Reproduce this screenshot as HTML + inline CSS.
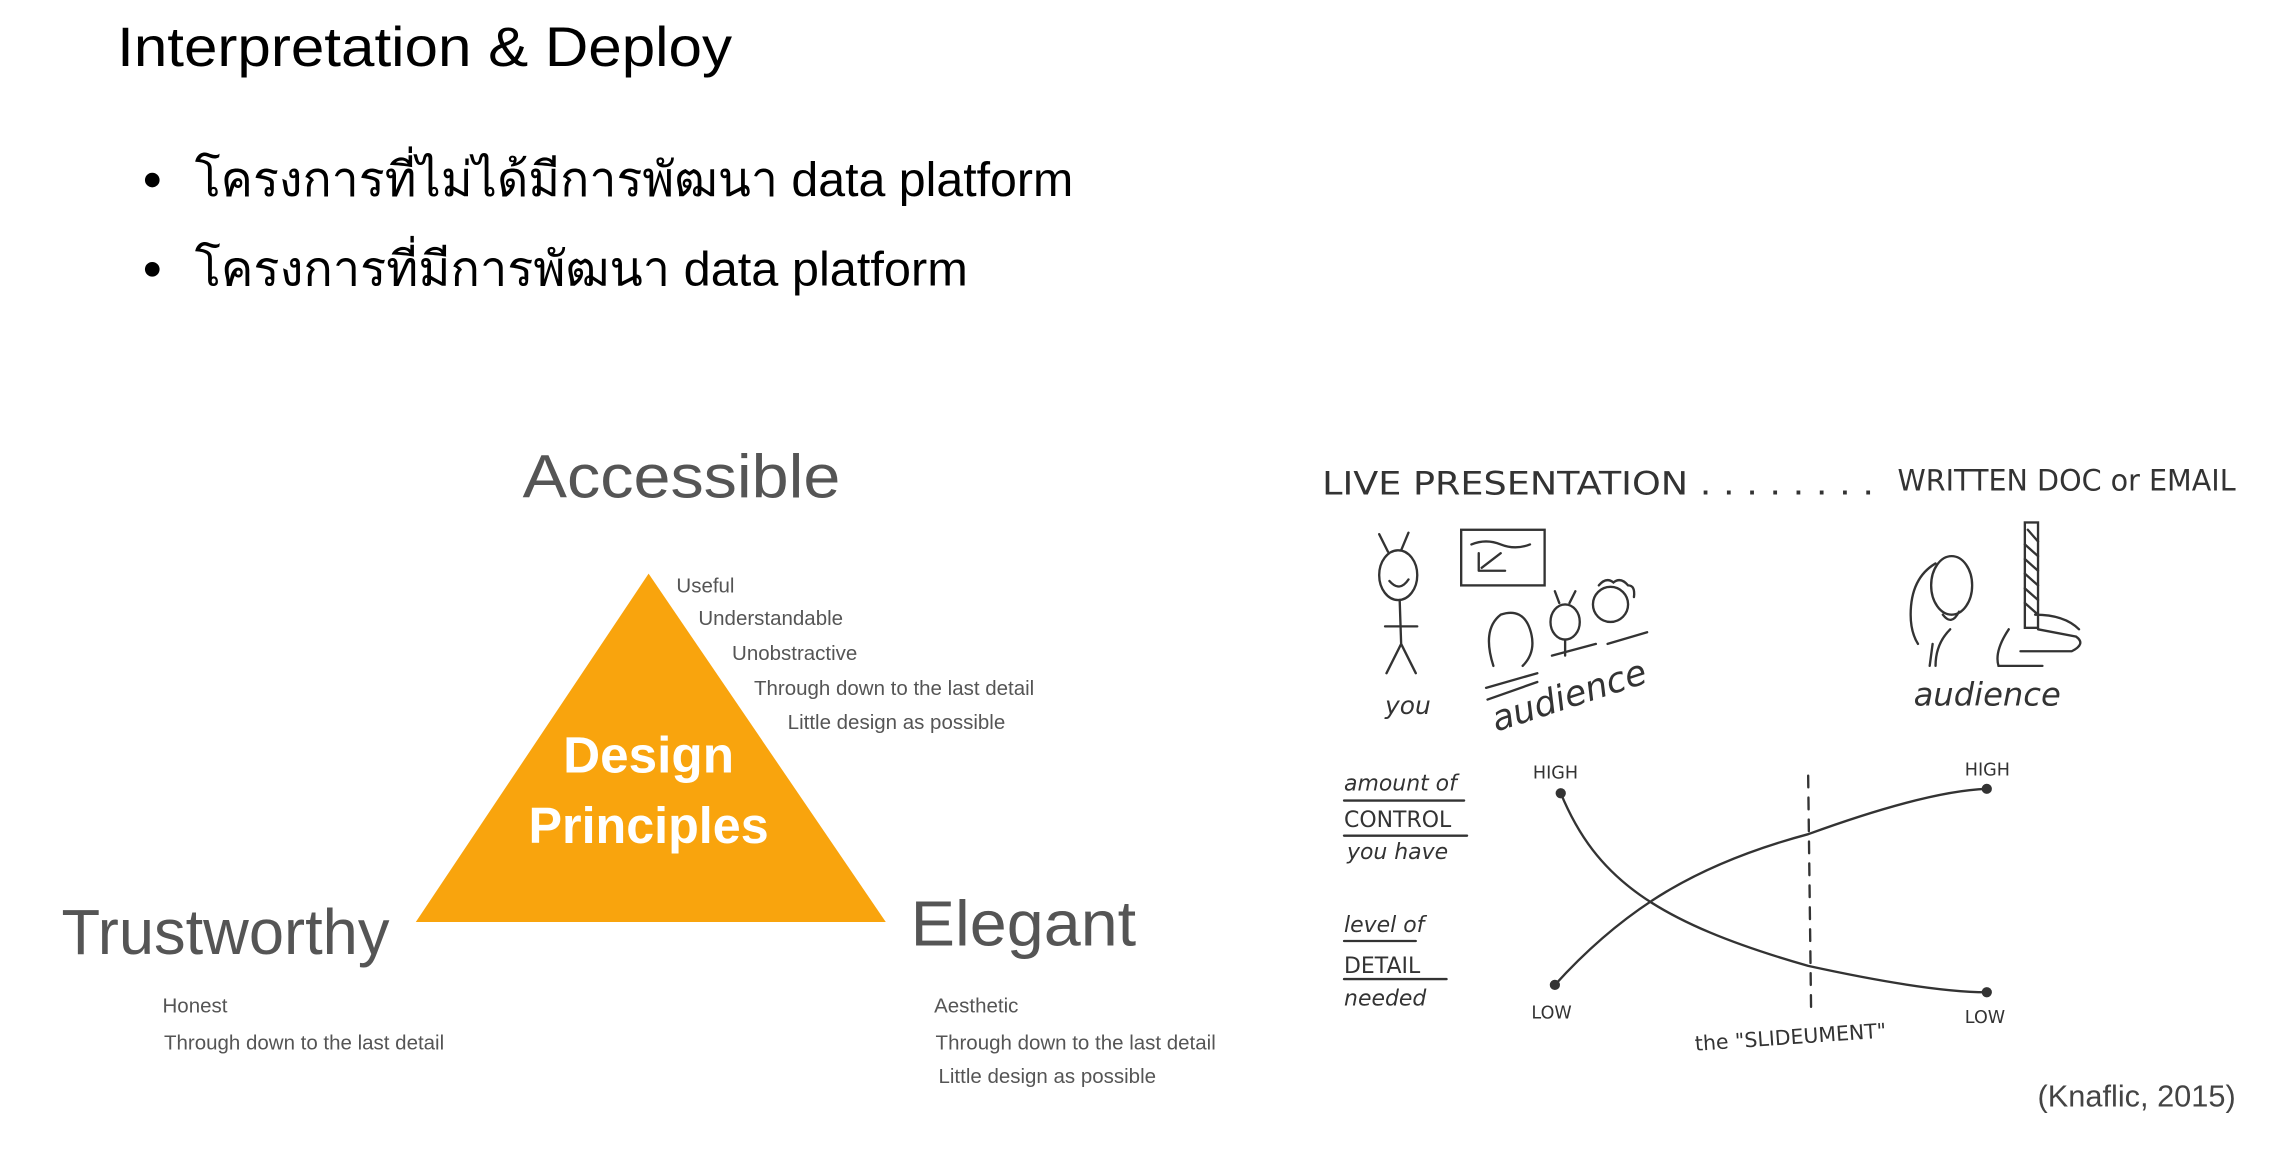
<!DOCTYPE html>
<html><head><meta charset="utf-8"><style>
html,body{margin:0;padding:0;background:#fff;}
svg{display:block;}
</style></head><body>
<svg width="2284" height="1162" viewBox="0 0 1560 794" preserveAspectRatio="none" xmlns="http://www.w3.org/2000/svg">
<rect width="1560" height="794" fill="#fff"/>
<g font-family="'Liberation Sans', 'DejaVu Sans', sans-serif">
<text x="80" y="45" font-size="38" fill="#000" textLength="420" lengthAdjust="spacingAndGlyphs">Interpretation &amp; Deploy</text>
<circle cx="104" cy="123" r="5" fill="#000"/>
<circle cx="104" cy="184" r="5" fill="#000"/>
<text x="133" y="134" font-size="33" fill="#000" textLength="600" lengthAdjust="spacingAndGlyphs">โครงการที่ไม่ได้มีการพัฒนา data platform</text>
<text x="133" y="195" font-size="33" fill="#000" textLength="528" lengthAdjust="spacingAndGlyphs">โครงการที่มีการพัฒนา data platform</text>

<text x="357" y="340" font-size="42" fill="#555" textLength="217" lengthAdjust="spacingAndGlyphs">Accessible</text>
<polygon points="443,392 284,630 605,630" fill="#F9A40D"/>
<text x="443" y="528" font-size="35" font-weight="bold" fill="#fff" text-anchor="middle">Design</text>
<text x="443" y="576" font-size="35" font-weight="bold" fill="#fff" text-anchor="middle" textLength="164" lengthAdjust="spacingAndGlyphs">Principles</text>
<g font-size="14" fill="#555">
<text x="462" y="405">Useful</text>
<text x="477" y="427">Understandable</text>
<text x="500" y="451">Unobstractive</text>
<text x="515" y="475">Through down to the last detail</text>
<text x="538" y="498">Little design as possible</text>
<text x="111" y="692">Honest</text>
<text x="112" y="717">Through down to the last detail</text>
<text x="638" y="692">Aesthetic</text>
<text x="639" y="717">Through down to the last detail</text>
<text x="641" y="740">Little design as possible</text>
</g>
<text x="42" y="652" font-size="44" fill="#555" textLength="224" lengthAdjust="spacingAndGlyphs">Trustworthy</text>
<text x="622" y="646" font-size="44" fill="#555" textLength="154" lengthAdjust="spacingAndGlyphs">Elegant</text>

<!-- sketch -->
<g fill="#333" font-family="'DejaVu Sans', sans-serif">
<text x="903" y="338" font-size="22" textLength="377" lengthAdjust="spacingAndGlyphs">LIVE PRESENTATION . . . . . . . .</text>
<text x="1296" y="335" font-size="20" textLength="231" lengthAdjust="spacingAndGlyphs">WRITTEN DOC or EMAIL</text>
<text x="946" y="488" font-size="17" font-style="italic">you</text>
<text x="1022" y="500" font-size="24" font-style="italic" transform="rotate(-18 1022 500)">audience</text>
<text x="1307" y="482" font-size="22" font-style="italic">audience</text>
<g font-size="15" font-style="italic">
<text x="918" y="540">amount of</text>
<text x="918" y="565" font-style="normal">CONTROL</text>
<text x="920" y="587">you have</text>
<text x="918" y="637">level of</text>
<text x="918" y="665" font-style="normal">DETAIL</text>
<text x="918" y="687">needed</text>
</g>
<g font-size="12">
<text x="1047" y="532">HIGH</text>
<text x="1342" y="530">HIGH</text>
<text x="1046" y="696">LOW</text>
<text x="1342" y="699">LOW</text>
<text x="1158" y="718" font-size="14" transform="rotate(-4 1158 718)">the "SLIDEUMENT"</text>
</g>
</g>
<g stroke="#333" stroke-width="1.6" fill="none" stroke-linecap="round">
<line x1="918" y1="547" x2="1000" y2="547"/>
<line x1="918" y1="571" x2="1002" y2="571"/>
<line x1="918" y1="643" x2="967" y2="643"/>
<line x1="918" y1="669" x2="988" y2="669"/>
<path d="M1066 542 C1090 600 1130 630 1235 660 C1290 672 1330 678 1357 678"/>
<path d="M1062 673 C1110 620 1160 590 1235 570 C1290 550 1330 540 1357 539"/>
<line x1="1235" y1="530" x2="1237" y2="690" stroke-dasharray="8 7"/>
<!-- stick figure -->
<ellipse cx="955" cy="393" rx="13" ry="17"/>
<path d="M948 377 L942 365 M957 376 L962 364"/>
<path d="M949 397 Q956 405 962 396"/>
<path d="M956 410 L957 440 M946 428 L968 428 M957 440 L947 460 M957 440 L967 460"/>
<rect x="998" y="362" width="57" height="38"/>
<path d="M1005 372 Q1015 368 1025 372 T1045 372 M1010 390 L1010 378 M1010 390 L1028 390 M1012 388 L1025 378"/>
<!-- audience -->
<path d="M1020 455 Q1012 430 1025 420 Q1040 415 1045 430 Q1050 445 1040 455"/>
<ellipse cx="1069" cy="425" rx="10" ry="12"/>
<path d="M1065 412 L1062 404 M1072 412 L1076 404 M1069 437 L1069 448"/>
<ellipse cx="1100" cy="413" rx="12" ry="12"/>
<path d="M1092 400 q5 -6 10 -2 q5 -4 10 2 q5 0 4 8"/>
<path d="M1015 470 L1050 460 M1016 478 L1050 466 M1060 448 L1090 440 M1098 440 L1125 432"/>
<!-- right figure -->
<ellipse cx="1333" cy="400" rx="14" ry="20"/>
<path d="M1322 385 Q1305 395 1305 420 Q1305 432 1310 440 M1327 420 Q1333 428 1338 418"/>
<path d="M1320 440 L1318 455 M1332 430 Q1322 440 1322 455"/>
<rect x="1383" y="357" width="9" height="72"/>
<path d="M1385 362 L1392 370 M1383 372 L1392 380 M1383 382 L1392 390 M1383 392 L1392 400 M1383 402 L1392 410 M1383 412 L1392 420"/>
<path d="M1392 430 L1418 435 Q1425 440 1415 445 L1380 445 M1390 420 Q1410 420 1420 430 M1372 430 Q1362 445 1365 455 L1395 455"/>
</g>
<g fill="#333">
<circle cx="1066" cy="542" r="3.5"/><circle cx="1357" cy="539" r="3.5"/>
<circle cx="1062" cy="673" r="3.5"/><circle cx="1357" cy="678" r="3.5"/>
</g>
<text x="1527" y="756" font-size="21" fill="#444" text-anchor="end">(Knaflic, 2015)</text>
</g>
</svg>
</body></html>
